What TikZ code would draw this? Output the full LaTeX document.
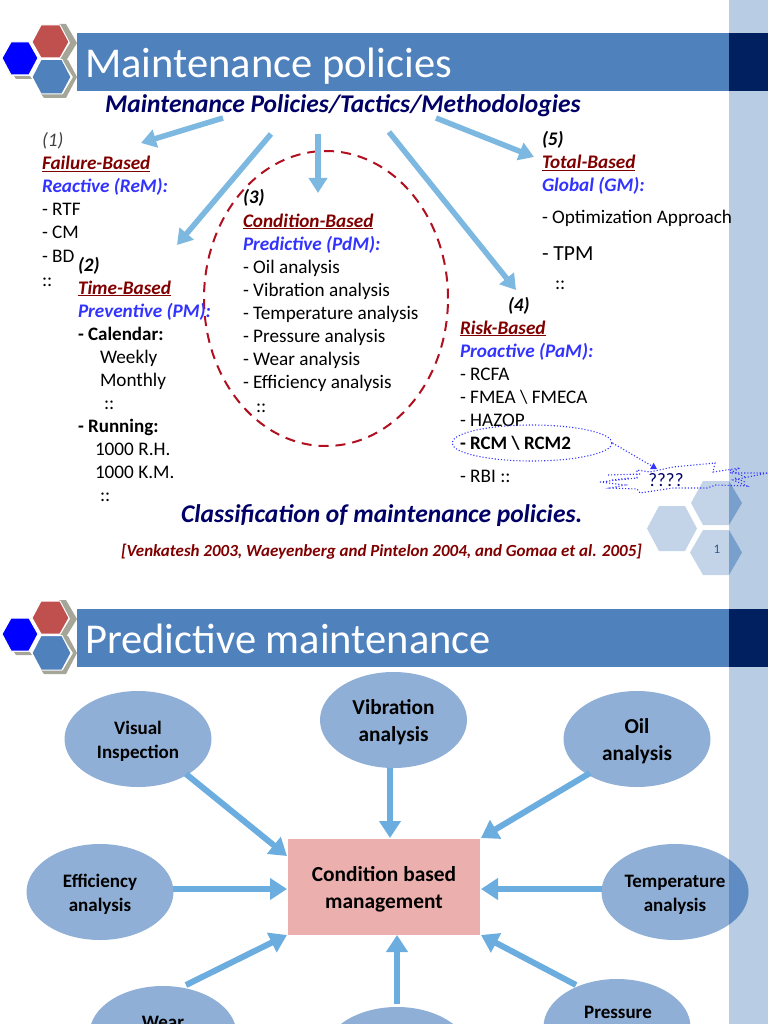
\documentclass[tikz,border=0pt]{standalone}
\usepackage{fontspec}
\setmainfont{Carlito}
\usetikzlibrary{arrows.meta,shapes.geometric}
\definecolor{barblue}{HTML}{4F81BD}
\definecolor{navybar}{HTML}{002060}
\definecolor{sidebar}{HTML}{B8CCE4}
\definecolor{hexred}{HTML}{C0504D}
\definecolor{hexgray}{HTML}{A5A598}
\definecolor{arrowblue}{HTML}{6CADDF}
\definecolor{arrowpale}{HTML}{7DB8E0}
\definecolor{ellblue}{HTML}{8FAFD6}
\definecolor{boxpink}{HTML}{EBAFAE}
\definecolor{headnavy}{HTML}{000066}
\definecolor{darkred}{HTML}{800000}
\definecolor{ringred}{HTML}{B01020}
\definecolor{indigo}{HTML}{3333FF}
\tikzset{
  txt/.style={anchor=base west,inner sep=0pt,outer sep=0pt,font=\fontsize{19.2}{20}\selectfont,text=black,yshift=-1pt},
  numlab/.style={txt,font=\fontsize{19.2}{20}\selectfont\bfseries\itshape},
  basedlab/.style={txt,font=\fontsize{19.2}{20}\selectfont\bfseries\itshape,text=darkred},
  kindlab/.style={txt,font=\fontsize{19.2}{20}\selectfont\bfseries\itshape,text=indigo},
  boldtxt/.style={txt,font=\fontsize{19}{20}\selectfont\bfseries},
  flow/.style={draw=arrowblue,line width=6pt,-{Triangle[length=17pt,width=21pt]}},
  flowthin/.style={draw=arrowpale,line width=5.5pt,-{Triangle[length=15pt,width=18pt]}},
  bubble/.style={ellipse,fill=ellblue,minimum width=147pt,minimum height=96pt,inner sep=0pt},
  bubbletext/.style={inner sep=0pt,align=center,font=\fontsize{19}{24}\selectfont\bfseries},
  bubblebig/.style={bubbletext,font=\fontsize{21.3}{27}\selectfont\bfseries},
  titlebar/.style={fill=barblue,draw=none},
  titletext/.style={anchor=base west,inner sep=0pt,text=white,font=\fontsize{42.5}{44}\selectfont},
  hexa/.style={fill=#1,draw=white,line width=1pt},
  decohex/.style={fill=sidebar!85!white,draw=none},
}
\newcommand{\logo}[1]{%
  \begin{scope}[yshift=-#1pt]
    \fill[hexgray] (59,24)--(66,24)--(77,43)--(66,61)--(59,61)--(70,43)--cycle;
    \fill[hexgray] (62,60)--(68,60)--(77,77)--(66,98)--(44,98)--(41,94)--(63,94)--(73,77)--cycle;
    \fill[hexgray] (14,76)--(30,76)--(32,79)--(16,79)--cycle;
    \path[hexa=hexred] (32,42)--(41,25)--(60,25)--(69,42)--(60,58)--(41,58)--cycle;
    \path[hexa=barblue] (32,77)--(41,59.5)--(62,59.5)--(71,77)--(62,94)--(41,94)--cycle;
    \path[hexa=blue] (2,58)--(11,42)--(29,42)--(38,58)--(29,75)--(11,75)--cycle;
  \end{scope}}
\begin{document}
\begin{tikzpicture}[x=1pt,y=-1pt]
\useasboundingbox (0,0) rectangle (768,1024);
\clip (0,0) rectangle (768,1024);
% sidebar
\fill[sidebar] (729,0) rectangle (768,1024);
% title bars
\fill[titlebar] (77,33) rectangle (729,91);
\fill[navybar] (729,33) rectangle (768,91);
\fill[titlebar] (77,609) rectangle (729,667);
\fill[navybar] (729,609) rectangle (768,667);
\logo{0}
\logo{576}
\node[titletext] (t1) at (85,77.5) {Maintenance policies};
\node[titletext] (t2) at (85,653.5) {Predictive maintenance};
% decorative hexagons
\fill[decohex] (647,528.5)--(659,506)--(685,506)--(697,528.5)--(685,551)--(659,551)--cycle;
\fill[decohex] (691,503)--(703,481)--(729,481)--(729,525)--(703,525)--cycle;
\fill[decohex] (690,552.5)--(703,530)--(729,530)--(729,575)--(703,575)--cycle;
\fill[barblue!60!sidebar] (729,481)--(742,503)--(729,525)--cycle;
\fill[barblue!60!sidebar] (729,530)--(742,552.5)--(729,575)--cycle;
\node[inner sep=0pt,text=barblue!70!black,font=\fontsize{13}{15}\selectfont] (pg) at (717,549) {1};
% heading
\node[anchor=base west,inner sep=0pt,text=headnavy,font=\fontsize{25.5}{27}\selectfont\bfseries\itshape] (head) at (105,112.5) {Maintenance Policies/Tactics/Methodologies};
% dashed ellipse
\node[ellipse,draw=ringred,line width=2pt,dash pattern=on 10pt off 7pt,minimum width=244pt,minimum height=295pt,inner sep=0pt] (cbmring) at (326,298.5) {};
% top connectors
\coordinate (a1s) at (223,118); \coordinate (a1e) at (141,143);
\coordinate (a2s) at (271,134); \coordinate (a2e) at (177,245);
\coordinate (a3s) at (318,134); \coordinate (a3e) at (318,193);
\coordinate (a4s) at (389,132); \coordinate (a4e) at (516,290);
\coordinate (a5s) at (436,118); \coordinate (a5e) at (534,157);
\foreach \p in {1,...,5} {\draw[flowthin] (a\p s) -- (a\p e);}
% (1)
\node[txt,font=\fontsize{19.2}{20}\selectfont\itshape,text=black!75] (n1) at (42,146) {(1)};
\node[basedlab] (f1) at (42,169) {\underline{Failure-Based}};
\node[kindlab] (k1) at (42,192) {Reactive (ReM):};
\node[txt] (i11) at (42,215) {- RTF};
\node[txt] (i12) at (42,238) {- CM};
\node[txt] (i13) at (42,261) {- BD};
\node[txt] (i14) at (42,285) {::};
% (2)
\node[numlab] (n2) at (78,270) {(2)};
\node[basedlab] (f2) at (78,293) {\underline{Time-Based}};
\node[kindlab] (k2) at (78,316) {Preventive (PM):};
\node[boldtxt] (i21) at (78,339) {- Calendar:};
\node[txt] (i22) at (100,362) {Weekly};
\node[txt] (i23) at (100,385) {Monthly};
\node[txt] (i24) at (104,408) {::};
\node[boldtxt] (i25) at (78,431) {- Running:};
\node[txt] (i26) at (95,454) {1000 R.H.};
\node[txt] (i27) at (95,477) {1000 K.M.};
\node[txt] (i28) at (100,500) {::};
% (3)
\node[numlab] (n3) at (243,203) {(3)};
\node[basedlab] (f3) at (243,226) {\underline{Condition-Based}};
\node[kindlab] (k3) at (243,249) {Predictive (PdM):};
\node[txt] (i31) at (243,272) {- Oil analysis};
\node[txt] (i32) at (243,295) {- Vibration analysis};
\node[txt] (i33) at (243,318) {- Temperature analysis};
\node[txt] (i34) at (243,341) {- Pressure analysis};
\node[txt] (i35) at (243,364) {- Wear analysis};
\node[txt] (i36) at (243,387) {- Efficiency analysis};
\node[txt] (i37) at (256,411) {::};
% (4)
\node[numlab] (n4) at (508,310) {(4)};
\node[basedlab] (f4) at (460,333) {\underline{Risk-Based}};
\node[kindlab] (k4) at (460,356) {Proactive (PaM):};
\node[txt] (i41) at (460,379) {- RCFA};
\node[txt] (i42) at (460,402) {- FMEA \textbackslash{} FMECA};
\node[txt] (i43) at (460,425) {- HAZOP};
\node[boldtxt] (i44) at (460,448) {- RCM \textbackslash{} RCM2};
\node[txt] (i45) at (460,481) {- RBI ::};
% (5)
\node[numlab] (n5) at (542,145) {(5)};
\node[basedlab] (f5) at (542,168) {\underline{Total-Based}};
\node[kindlab] (k5) at (542,191) {Global (GM):};
\node[txt] (i51) at (542,222) {- Optimization Approach};
\node[txt,font=\fontsize{21.5}{22}\selectfont] (i52) at (542,259) {- TPM};
\node[txt] (i53) at (555,288) {::};
% RCM ring and burst
\node[ellipse,draw=indigo,dotted,line width=1.1pt,minimum width=160pt,minimum height=36pt,inner sep=0pt] (rcm) at (532,443) {};
\draw[draw=indigo,dotted,line width=1.1pt]
 (600,482)--(637,478)--(637,470)--(650,472)--(673,467)--(715,463)--(713,472)--(740,468)--(730,473)--(768,473)--(733,480)--(747,486)--(716,485)--(707,488)--(673,488)--(640,493)--(637,489)--(610,488)--(625,485)--cycle;
\draw[draw=indigo,dotted,line width=1.1pt] (608,475)--(640,474) (612,480)--(630,478) (730,470)--(745,477) (735,478)--(745,482);
\node[inner sep=0pt,text=headnavy,font=\fontsize{19}{20}\selectfont] (qq) at (666,480) {????};
\coordinate (qtip) at (657,469);
\draw[draw=indigo,dotted,line width=1.1pt,-{Triangle[length=6pt,width=7pt]}] (rcm.east) -- (qtip);
% captions
\node[anchor=base west,inner sep=0pt,text=headnavy,font=\fontsize{25.5}{27}\selectfont\bfseries\itshape] (cap) at (181,522) {Classification of maintenance policies.};
\node[anchor=base west,inner sep=0pt,text=darkred,font=\fontsize{17}{18}\selectfont\bfseries\itshape] (cite) at (121,556) {[Venkatesh 2003, Waeyenberg and Pintelon 2004, and Gomaa et al. 2005]};
% lower diagram
\node[fill=boxpink,minimum width=192pt,minimum height=96pt,inner sep=0pt] (cbm) at (384,887) {};
\node[bubblebig,font=\fontsize{21.4}{27}\selectfont\bfseries] (cbmt) at (384,889) {Condition based\\management};
\node[bubble] (vis) at (138,739) {};
\node[bubbletext] (vist) at (138,741) {Visual\\Inspection};
\node[bubble] (vib) at (393.5,720) {};
\node[bubblebig] (vibt) at (393.5,722) {Vibration\\analysis};
\node[bubble] (oil) at (637,739) {};
\node[bubblebig] (oilt) at (637,741) {Oil\\analysis};
\node[bubble] (eff) at (100,892) {};
\node[bubbletext] (efft) at (100,894.5) {Efficiency\\analysis};
\node[bubble] (tem) at (675,892) {};
\begin{scope}
  \clip (729,800) rectangle (768,1000);
  \fill[barblue!75!ellblue] (tem.center) ellipse [x radius=73.5,y radius=48];
\end{scope}
\node[bubbletext] (temt) at (675,894.5) {Temperature\\analysis};
\node[bubble] (wear) at (163,1034) {};
\node[bubble] (bot) at (397,1055) {};
\node[bubble] (pre) at (617,1027) {};
\node[anchor=base,inner sep=0pt,font=\fontsize{19}{20}\selectfont\bfseries] (weart) at (163,1028) {Wear};
\node[anchor=base,inner sep=0pt,font=\fontsize{19}{20}\selectfont\bfseries] (pret) at (618,1018) {Pressure};
% lower connectors
\coordinate (c1s) at (186,774); \coordinate (c1e) at (287,856);
\coordinate (c2s) at (390,768); \coordinate (c2e) at (390,838);
\coordinate (c3s) at (590,773); \coordinate (c3e) at (481,838);
\coordinate (c4s) at (173,889); \coordinate (c4e) at (287,889);
\coordinate (c5s) at (602,889); \coordinate (c5e) at (481,889);
\coordinate (c6s) at (186,985); \coordinate (c6e) at (287,935);
\coordinate (c7s) at (397,1004); \coordinate (c7e) at (397,935);
\coordinate (c8s) at (576,985); \coordinate (c8e) at (481,935);
\foreach \p in {1,...,8} {\draw[flow] (c\p s) -- (c\p e);}
\end{tikzpicture}
\end{document}
